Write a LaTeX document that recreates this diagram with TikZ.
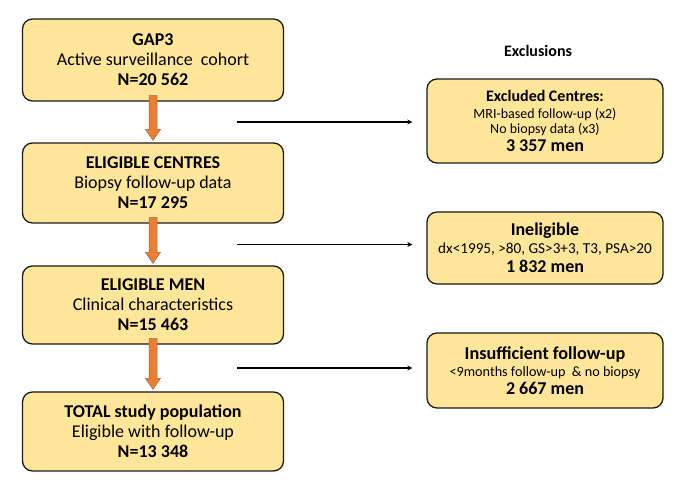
\documentclass[tikz,border=0pt]{standalone}
\usepackage{fontspec}
\setmainfont{Carlito}
\usetikzlibrary{calc,arrows.meta}
\definecolor{boxfill}{HTML}{FFE699}
\definecolor{boxedge}{HTML}{1A1A1A}
\definecolor{arroworange}{HTML}{ED7D31}
\definecolor{arrowedge}{HTML}{8C6A50}
\tikzset{
  leftbox/.style={draw=boxedge, fill=boxfill, line width=1.3pt, rounded corners=10pt,
    minimum width=261pt, align=center, inner sep=0pt,
    font=\fontsize{18}{20}\selectfont},
  rightbox/.style={draw=boxedge, fill=boxfill, line width=1.3pt, rounded corners=10pt,
    minimum width=236pt, align=center, inner sep=0pt,
    font=\fontsize{14}{15}\selectfont},
  blockarrow/.style={fill=arroworange, draw=arrowedge, line width=0.5pt},
  exclline/.style={draw=black, line width=1.1pt, -{Stealth[length=5pt,width=5pt]}, shorten >=14pt},
}
\newcommand\orangearrow[2]{%
  \path let \p1=($(#1.south)+(0,-6)$), \p2=($(#2.north)+(0,-2)$) in
    [blockarrow] (\x1-4pt,\y1) -- (\x1+4pt,\y1) -- (\x1+4pt,\y2+11pt) -- (\x1+7.5pt,\y2+11pt)
    -- (\x1,\y2) -- (\x1-7.5pt,\y2+11pt) -- (\x1-4pt,\y2+11pt) -- cycle;}
\begin{document}
\begin{tikzpicture}[x=1pt,y=-1pt]
\useasboundingbox (0,0) rectangle (678,486);
% left column
\node[leftbox, minimum height=82pt] (gap) at (153,60)
  {\textbf{GAP3}\\Active surveillance\ \ cohort\\\textbf{N=20 562}};
\node[leftbox, minimum height=80pt] (centres) at (153,183)
  {\textbf{ELIGIBLE CENTRES}\\Biopsy follow-up data\\\textbf{N=17 295}};
\node[leftbox, minimum height=78pt] (men) at (153,305)
  {\textbf{ELIGIBLE MEN}\\Clinical characteristics\\\textbf{N=15 463}};
\node[leftbox, minimum height=79pt] (total) at (153,431.5)
  {\textbf{TOTAL study population}\\Eligible with follow-up\\\textbf{N=13 348}};
% right column
\node[font=\fontsize{16}{18}\selectfont\bfseries] (title) at (538,51) {Exclusions};
\node[rightbox, minimum height=84pt] (excl) at (545,121)
  {{\fontsize{16}{17}\selectfont\bfseries Excluded Centres:}\\[2pt]
   MRI-based follow-up (x2)\\
   No biopsy data (x3)\\[3pt]
   {\fontsize{18}{18}\selectfont\bfseries 3 357 men}};
\node[rightbox, minimum height=72pt] (inel) at (545,248)
  {{\fontsize{18}{18}\selectfont\bfseries Ineligible}\\[3pt]
   {\fontsize{15.2}{16}\selectfont dx<1995, >80, GS>3+3, T3, PSA>20}\\[4pt]
   {\fontsize{18}{18}\selectfont\bfseries 1 832 men}};
\node[rightbox, minimum height=75pt] (insuf) at (545,370.5)
  {{\fontsize{18.2}{18}\selectfont\bfseries Insufficient follow-up}\\[2pt]
   {\fontsize{14.2}{16}\selectfont <9months follow-up\ \ \& no biopsy}\\[3pt]
   {\fontsize{18}{18}\selectfont\bfseries 2 667 men}};
% orange arrows
\orangearrow{gap}{centres}
\orangearrow{centres}{men}
\orangearrow{men}{total}
% exclusion lines
\coordinate (s1) at ($(gap.south)!0.5!(centres.north) + (84,0)$);
\coordinate (s2) at ($(centres.south)!0.5!(men.north) + (84,0)$);
\coordinate (s3) at ($(men.south)!0.5!(total.north) + (84,0)$);
\draw[exclline] (s1) -- (s1 -| excl.west);
\draw[exclline] (s2) -- (s2 -| inel.west);
\draw[exclline] (s3) -- (s3 -| insuf.west);
\end{tikzpicture}
\end{document}
